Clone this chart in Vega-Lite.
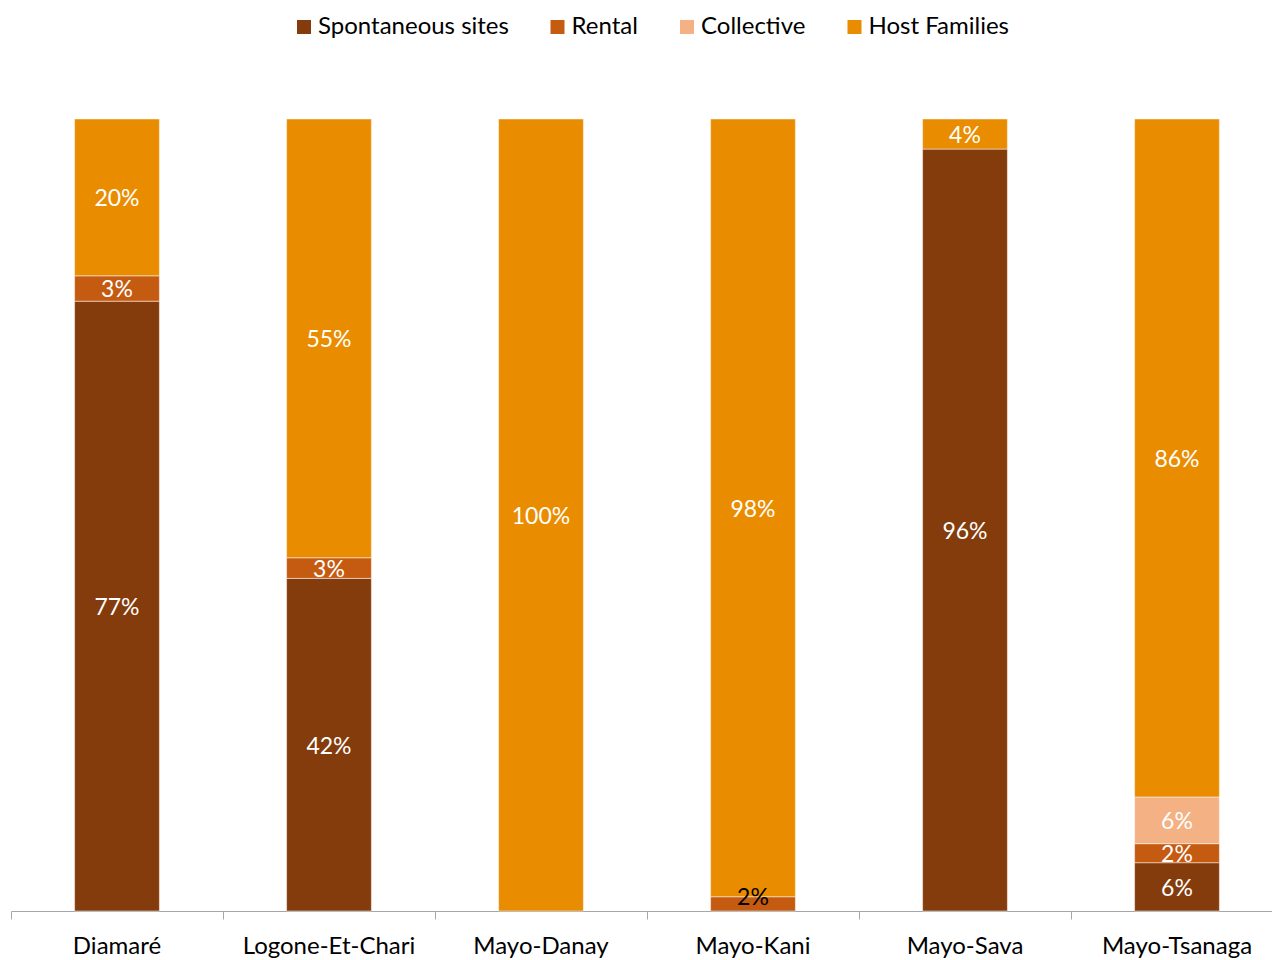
{
  "$schema": "https://vega.github.io/schema/vega-lite/v6.json",
  "width": 1261,
  "height": 792,
  "autosize": {"type": "none"},
  "padding": {"left": 11, "top": 119, "right": 0, "bottom": 49},
  "background": "white",
  "config": {"view": {"stroke": null}, "font": "Lato"},
  "data": {
    "values": [
      {"district": "Diamaré", "series": "Spontaneous sites", "order": 1, "value": 0.770},
      {"district": "Diamaré", "series": "Rental", "order": 2, "value": 0.032},
      {"district": "Diamaré", "series": "Host Families", "order": 4, "value": 0.198},
      {"district": "Logone-Et-Chari", "series": "Spontaneous sites", "order": 1, "value": 0.420},
      {"district": "Logone-Et-Chari", "series": "Rental", "order": 2, "value": 0.026},
      {"district": "Logone-Et-Chari", "series": "Host Families", "order": 4, "value": 0.554},
      {"district": "Mayo-Danay", "series": "Host Families", "order": 4, "value": 1.0},
      {"district": "Mayo-Kani", "series": "Rental", "order": 2, "value": 0.018},
      {"district": "Mayo-Kani", "series": "Host Families", "order": 4, "value": 0.982},
      {"district": "Mayo-Sava", "series": "Spontaneous sites", "order": 1, "value": 0.962},
      {"district": "Mayo-Sava", "series": "Host Families", "order": 4, "value": 0.038},
      {"district": "Mayo-Tsanaga", "series": "Spontaneous sites", "order": 1, "value": 0.061},
      {"district": "Mayo-Tsanaga", "series": "Rental", "order": 2, "value": 0.024},
      {"district": "Mayo-Tsanaga", "series": "Collective", "order": 3, "value": 0.059},
      {"district": "Mayo-Tsanaga", "series": "Host Families", "order": 4, "value": 0.856}
    ]
  },
  "transform": [
    {"stack": "value", "groupby": ["district"], "sort": [{"field": "order", "order": "ascending"}], "as": ["y0", "y1"]},
    {"calculate": "max((datum.y0 + datum.y1) / 2, 0.019)", "as": "mid"}
  ],
  "encoding": {
    "x": {
      "field": "district",
      "type": "nominal",
      "sort": ["Diamaré", "Logone-Et-Chari", "Mayo-Danay", "Mayo-Kani", "Mayo-Sava", "Mayo-Tsanaga"],
      "scale": {"range": [0, 1272], "paddingInner": 0, "paddingOuter": 0},
      "axis": {
        "title": null,
        "labelAngle": 0,
        "labelFontSize": 24,
        "labelColor": "#000000",
        "labelPadding": 15,
        "labelLimit": 0,
        "domainColor": "#A6A6A6",
        "tickColor": "#A6A6A6",
        "tickSize": 8,
        "bandPosition": 0,
        "domainWidth": 1,
        "tickWidth": 1
      }
    }
  },
  "layer": [
    {
      "mark": {"type": "bar", "width": {"band": 0.4}, "stroke": "white", "strokeWidth": 0.8, "strokeOpacity": 0.6},
      "encoding": {
        "y": {"field": "y0", "type": "quantitative", "scale": {"domain": [0, 1]}, "axis": null},
        "y2": {"field": "y1"},
        "color": {
          "field": "series",
          "type": "nominal",
          "scale": {
            "domain": ["Spontaneous sites", "Rental", "Collective", "Host Families"],
            "range": ["#843C0C", "#C55A11", "#F4B183", "#EA8C00"]
          },
          "legend": {
            "title": null,
            "orient": "none",
            "direction": "horizontal",
            "legendX": 281,
            "legendY": -104,
            "padding": 0,
            "symbolType": "square",
            "symbolSize": 196,
            "symbolStrokeWidth": 0,
            "labelFontSize": 24,
            "labelLimit": 0,
            "labelColor": "#000000",
            "labelOffset": 2,
            "columnPadding": 36.5
          }
        }
      }
    },
    {
      "mark": {"type": "text", "fontSize": 23, "baseline": "middle", "align": "center", "dy": 2},
      "encoding": {
        "y": {"field": "mid", "type": "quantitative"},
        "text": {"field": "value", "format": ".0%"},
        "color": {"condition": {"test": "datum.value < 0.02", "value": "#000000"}, "value": "#FFFFFF"}
      }
    }
  ]
}
